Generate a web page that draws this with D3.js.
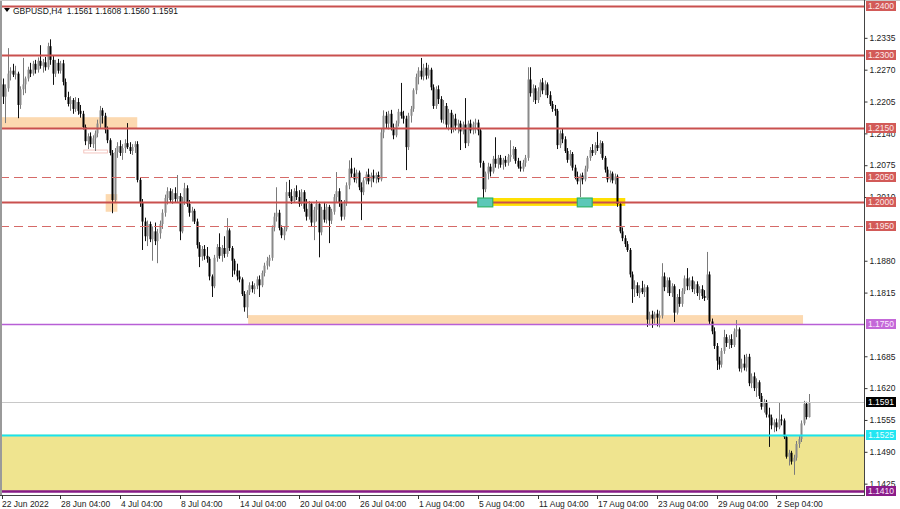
<!DOCTYPE html>
<html><head><meta charset="utf-8">
<script src="https://cdn.jsdelivr.net/npm/d3@7"></script>
<style>body{margin:0;background:#fff}svg{display:block}text{font-family:"Liberation Sans",Arial,sans-serif}</style>
</head><body><svg id="c" width="900" height="509"></svg>
<script>
// GBPUSD H4 candles [open, high, low, close], from 22 Jun 2022 08:00
const candles = [
[1.2240,1.2252,1.2200,1.2215],[1.2215,1.2240,1.2161,1.2232],[1.2232,1.2314,1.2225,1.2262],[1.2262,1.2275,1.2248,1.2268],
[1.2268,1.2282,1.2255,1.2260],[1.2260,1.2278,1.2250,1.2262],[1.2262,1.2266,1.2171,1.2198],[1.2198,1.2236,1.2190,1.2230],
[1.2230,1.2294,1.2218,1.2240],[1.2240,1.2256,1.2222,1.2252],[1.2252,1.2276,1.2246,1.2270],[1.2270,1.2284,1.2255,1.2262],
[1.2262,1.2288,1.2258,1.2282],[1.2282,1.2290,1.2262,1.2270],[1.2270,1.2295,1.2264,1.2288],[1.2288,1.2320,1.2272,1.2278],
[1.2278,1.2292,1.2264,1.2285],[1.2285,1.2296,1.2268,1.2275],[1.2275,1.2325,1.2270,1.2318],[1.2318,1.2332,1.2280,1.2290],
[1.2290,1.2300,1.2239,1.2262],[1.2262,1.2290,1.2255,1.2284],[1.2284,1.2292,1.2262,1.2268],[1.2268,1.2288,1.2262,1.2283],
[1.2283,1.2290,1.2238,1.2245],[1.2245,1.2252,1.2208,1.2214],[1.2214,1.2225,1.2195,1.2200],[1.2200,1.2216,1.2186,1.2208],
[1.2208,1.2212,1.2180,1.2190],[1.2190,1.2214,1.2184,1.2204],[1.2204,1.2212,1.2178,1.2186],[1.2186,1.2198,1.2172,1.2180],
[1.2180,1.2186,1.2148,1.2153],[1.2153,1.2158,1.2116,1.2124],[1.2124,1.2140,1.2108,1.2134],[1.2134,1.2142,1.2112,1.2118],
[1.2118,1.2136,1.2110,1.2130],[1.2130,1.2146,1.2104,1.2140],[1.2140,1.2168,1.2132,1.2160],[1.2160,1.2196,1.2150,1.2187],
[1.2187,1.2192,1.2160,1.2176],[1.2176,1.2182,1.2140,1.2148],[1.2148,1.2154,1.2120,1.2126],[1.2126,1.2130,1.2095,1.2100],
[1.2100,1.2106,1.1977,1.2004],[1.2004,1.2110,1.1998,1.2102],[1.2102,1.2122,1.2090,1.2114],[1.2114,1.2126,1.2094,1.2100],
[1.2100,1.2118,1.2086,1.2110],[1.2110,1.2128,1.2100,1.2120],[1.2120,1.2161,1.2108,1.2112],[1.2112,1.2122,1.2098,1.2104],
[1.2104,1.2118,1.2096,1.2112],[1.2112,1.2124,1.2100,1.2118],[1.2118,1.2124,1.2040,1.2045],[1.2045,1.2050,1.1990,1.1998],
[1.1998,1.2006,1.1902,1.1960],[1.1960,1.1968,1.1920,1.1930],[1.1930,1.1962,1.1910,1.1955],[1.1955,1.1960,1.1918,1.1924],
[1.1924,1.1950,1.1880,1.1940],[1.1940,1.1958,1.1912,1.1920],[1.1920,1.1945,1.1875,1.1936],[1.1936,1.1962,1.1925,1.1955],
[1.1955,1.1985,1.1945,1.1978],[1.1978,1.2015,1.1970,1.2008],[1.2008,1.2030,1.1995,1.2022],[1.2022,1.2028,1.1998,1.2004],
[1.2004,1.2026,1.1996,1.2018],[1.2018,1.2030,1.2000,1.2006],[1.2006,1.2055,1.2000,1.2012],[1.2012,1.2018,1.1922,1.1940],
[1.1940,1.2010,1.1936,1.2002],[1.2002,1.2039,1.1994,1.2028],[1.2028,1.2034,1.1990,1.1996],[1.1996,1.2004,1.1970,1.1978],
[1.1978,1.1990,1.1960,1.1982],[1.1982,1.1986,1.1955,1.1960],[1.1960,1.1966,1.1905,1.1912],[1.1912,1.1918,1.1867,1.1888],
[1.1888,1.1910,1.1880,1.1904],[1.1904,1.1912,1.1882,1.1890],[1.1890,1.1908,1.1876,1.1884],[1.1884,1.1888,1.1840,1.1848],
[1.1848,1.1852,1.1806,1.1828],[1.1828,1.1892,1.1824,1.1886],[1.1886,1.1914,1.1878,1.1908],[1.1908,1.1936,1.1884,1.1890],
[1.1890,1.1912,1.1878,1.1906],[1.1906,1.1930,1.1886,1.1894],[1.1894,1.1967,1.1888,1.1942],[1.1942,1.1946,1.1900,1.1906],
[1.1906,1.1910,1.1847,1.1880],[1.1880,1.1884,1.1852,1.1860],[1.1860,1.1874,1.1840,1.1848],[1.1848,1.1860,1.1836,1.1842],
[1.1842,1.1846,1.1808,1.1812],[1.1812,1.1818,1.1776,1.1785],[1.1785,1.1820,1.1763,1.1816],[1.1816,1.1836,1.1810,1.1830],
[1.1830,1.1838,1.1815,1.1822],[1.1822,1.1834,1.1812,1.1828],[1.1828,1.1848,1.1822,1.1842],[1.1842,1.1850,1.1806,1.1830],
[1.1830,1.1860,1.1826,1.1855],[1.1855,1.1876,1.1848,1.1870],[1.1870,1.1888,1.1862,1.1880],[1.1880,1.1892,1.1868,1.1886],
[1.1886,1.1952,1.1880,1.1948],[1.1948,1.1978,1.1940,1.1970],[1.1970,1.2030,1.1960,1.1978],[1.1978,1.1984,1.1942,1.1947],
[1.1947,1.1952,1.1926,1.1932],[1.1932,1.1950,1.1922,1.1944],[1.1944,1.2041,1.1940,1.2020],[1.2020,1.2045,1.2008,1.2012],
[1.2012,1.2026,1.1996,1.2002],[1.2002,1.2028,1.1998,1.2022],[1.2022,1.2034,1.2004,1.2010],[1.2010,1.2024,1.1990,1.1996],
[1.1996,1.2026,1.1992,1.2020],[1.2020,1.2024,1.1980,1.1986],[1.1986,1.2006,1.1962,1.1970],[1.1970,1.2002,1.1964,1.1996],
[1.1996,1.2000,1.1950,1.1958],[1.1958,1.1990,1.1922,1.1984],[1.1984,1.2004,1.1960,1.1996],[1.1996,1.2000,1.1887,1.1938],
[1.1938,1.1990,1.1932,1.1984],[1.1984,1.2000,1.1958,1.1964],[1.1964,1.1996,1.1956,1.1990],[1.1990,1.1994,1.1916,1.1962],
[1.1962,1.1986,1.1955,1.1980],[1.1980,1.2016,1.1974,1.2010],[1.2010,1.2061,1.2000,1.2022],[1.2022,1.2028,1.1990,1.1998],
[1.1998,1.2004,1.1962,1.1970],[1.1970,1.2004,1.1964,1.1998],[1.1998,1.2040,1.1992,1.2034],[1.2034,1.2085,1.2026,1.2068],
[1.2068,1.2090,1.2050,1.2058],[1.2058,1.2070,1.2040,1.2046],[1.2046,1.2066,1.2038,1.2060],[1.2060,1.2064,1.2024,1.2030],
[1.2030,1.2040,1.1963,1.2020],[1.2020,1.2050,1.2014,1.2044],[1.2044,1.2062,1.2036,1.2056],[1.2056,1.2068,1.2036,1.2042],
[1.2042,1.2060,1.2030,1.2054],[1.2054,1.2066,1.2040,1.2048],[1.2048,1.2060,1.2038,1.2055],[1.2055,1.2062,1.2040,1.2046],
[1.2046,1.2150,1.2042,1.2142],[1.2142,1.2187,1.2130,1.2176],[1.2176,1.2184,1.2150,1.2160],[1.2160,1.2186,1.2148,1.2180],
[1.2180,1.2188,1.2146,1.2152],[1.2152,1.2160,1.2128,1.2136],[1.2136,1.2166,1.2132,1.2160],[1.2160,1.2190,1.2154,1.2184],
[1.2184,1.2243,1.2170,1.2176],[1.2176,1.2186,1.2160,1.2170],[1.2170,1.2176,1.2065,1.2112],[1.2112,1.2182,1.2106,1.2176],
[1.2176,1.2196,1.2162,1.2190],[1.2190,1.2232,1.2184,1.2228],[1.2228,1.2262,1.2220,1.2255],[1.2255,1.2275,1.2240,1.2268],
[1.2268,1.2294,1.2250,1.2256],[1.2256,1.2282,1.2248,1.2274],[1.2274,1.2284,1.2250,1.2258],[1.2258,1.2280,1.2252,1.2270],
[1.2270,1.2274,1.2228,1.2234],[1.2234,1.2240,1.2190,1.2196],[1.2196,1.2236,1.2190,1.2230],[1.2230,1.2238,1.2200,1.2210],
[1.2210,1.2216,1.2162,1.2168],[1.2168,1.2208,1.2160,1.2196],[1.2196,1.2202,1.2150,1.2158],[1.2158,1.2190,1.2146,1.2182],
[1.2182,1.2188,1.2140,1.2148],[1.2148,1.2178,1.2142,1.2170],[1.2170,1.2180,1.2146,1.2156],[1.2156,1.2168,1.2140,1.2160],
[1.2160,1.2166,1.2106,1.2144],[1.2144,1.2164,1.2138,1.2158],[1.2158,1.2212,1.2110,1.2120],[1.2120,1.2166,1.2114,1.2160],
[1.2160,1.2168,1.2140,1.2146],[1.2146,1.2164,1.2138,1.2158],[1.2158,1.2170,1.2140,1.2162],[1.2162,1.2168,1.2136,1.2146],
[1.2146,1.2150,1.2070,1.2080],[1.2080,1.2084,1.2004,1.2026],[1.2026,1.2062,1.2020,1.2058],[1.2058,1.2080,1.2046,1.2072],
[1.2072,1.2078,1.2052,1.2062],[1.2062,1.2094,1.2058,1.2088],[1.2088,1.2132,1.2070,1.2078],[1.2078,1.2096,1.2068,1.2090],
[1.2090,1.2096,1.2070,1.2076],[1.2076,1.2090,1.2066,1.2086],[1.2086,1.2094,1.2072,1.2080],[1.2080,1.2098,1.2074,1.2092],
[1.2092,1.2126,1.2082,1.2096],[1.2096,1.2114,1.2088,1.2108],[1.2108,1.2112,1.2078,1.2084],[1.2084,1.2090,1.2068,1.2072],
[1.2072,1.2084,1.2062,1.2068],[1.2068,1.2086,1.2062,1.2080],[1.2080,1.2096,1.2072,1.2090],[1.2090,1.2275,1.2084,1.2250],
[1.2250,1.2275,1.2215,1.2222],[1.2222,1.2240,1.2204,1.2232],[1.2232,1.2238,1.2200,1.2208],[1.2208,1.2234,1.2202,1.2226],
[1.2226,1.2250,1.2214,1.2244],[1.2244,1.2253,1.2220,1.2228],[1.2228,1.2248,1.2218,1.2240],[1.2240,1.2244,1.2212,1.2218],
[1.2218,1.2226,1.2196,1.2200],[1.2200,1.2206,1.2184,1.2190],[1.2190,1.2198,1.2176,1.2186],[1.2186,1.2190,1.2108,1.2116],
[1.2116,1.2146,1.2110,1.2140],[1.2140,1.2150,1.2120,1.2128],[1.2128,1.2134,1.2100,1.2104],[1.2104,1.2110,1.2080,1.2086],
[1.2086,1.2106,1.2074,1.2098],[1.2098,1.2102,1.2064,1.2070],[1.2070,1.2076,1.2046,1.2052],[1.2052,1.2062,1.2036,1.2042],
[1.2042,1.2058,1.2010,1.2054],[1.2054,1.2060,1.2036,1.2046],[1.2046,1.2074,1.2042,1.2068],[1.2068,1.2094,1.2062,1.2090],
[1.2090,1.2112,1.2084,1.2106],[1.2106,1.2118,1.2094,1.2100],[1.2100,1.2122,1.2096,1.2116],[1.2116,1.2143,1.2104,1.2110],
[1.2110,1.2126,1.2098,1.2120],[1.2120,1.2124,1.2086,1.2090],[1.2090,1.2094,1.2060,1.2066],[1.2066,1.2072,1.2040,1.2046],
[1.2046,1.2064,1.2040,1.2058],[1.2058,1.2062,1.2038,1.2044],[1.2044,1.2058,1.2036,1.2052],[1.2052,1.2056,1.1990,1.1996],
[1.1996,1.2000,1.1936,1.1940],[1.1940,1.1948,1.1920,1.1926],[1.1926,1.1932,1.1908,1.1914],[1.1914,1.1920,1.1898,1.1902],
[1.1902,1.1906,1.1846,1.1852],[1.1852,1.1858,1.1794,1.1822],[1.1822,1.1840,1.1806,1.1830],[1.1830,1.1836,1.1808,1.1814],
[1.1814,1.1830,1.1804,1.1824],[1.1824,1.1839,1.1812,1.1816],[1.1816,1.1832,1.1806,1.1826],[1.1826,1.1830,1.1745,1.1760],
[1.1760,1.1776,1.1748,1.1770],[1.1770,1.1778,1.1743,1.1762],[1.1762,1.1776,1.1752,1.1772],[1.1772,1.1780,1.1746,1.1764],
[1.1764,1.1778,1.1744,1.1768],[1.1768,1.1875,1.1762,1.1848],[1.1848,1.1856,1.1818,1.1826],[1.1826,1.1846,1.1814,1.1840],
[1.1840,1.1846,1.1808,1.1814],[1.1814,1.1834,1.1806,1.1828],[1.1828,1.1832,1.1755,1.1774],[1.1774,1.1812,1.1770,1.1806],
[1.1806,1.1822,1.1786,1.1792],[1.1792,1.1824,1.1786,1.1818],[1.1818,1.1850,1.1812,1.1844],[1.1844,1.1865,1.1820,1.1828],
[1.1828,1.1846,1.1820,1.1840],[1.1840,1.1848,1.1816,1.1822],[1.1822,1.1838,1.1812,1.1832],[1.1832,1.1838,1.1808,1.1814],
[1.1814,1.1828,1.1800,1.1822],[1.1822,1.1830,1.1802,1.1808],[1.1808,1.1820,1.1798,1.1804],[1.1804,1.1898,1.1800,1.1852],
[1.1852,1.1858,1.1750,1.1756],[1.1756,1.1762,1.1730,1.1736],[1.1736,1.1744,1.1700,1.1706],[1.1706,1.1712,1.1657,1.1676],
[1.1676,1.1684,1.1658,1.1668],[1.1668,1.1702,1.1662,1.1696],[1.1696,1.1739,1.1690,1.1724],[1.1724,1.1730,1.1704,1.1712],
[1.1712,1.1728,1.1700,1.1720],[1.1720,1.1730,1.1702,1.1708],[1.1708,1.1742,1.1704,1.1736],[1.1736,1.1759,1.1724,1.1740],
[1.1740,1.1744,1.1654,1.1660],[1.1660,1.1680,1.1652,1.1670],[1.1670,1.1688,1.1656,1.1662],[1.1662,1.1690,1.1654,1.1684],
[1.1684,1.1690,1.1624,1.1630],[1.1630,1.1650,1.1620,1.1644],[1.1644,1.1652,1.1614,1.1620],[1.1620,1.1640,1.1602,1.1632],
[1.1632,1.1636,1.1598,1.1604],[1.1604,1.1610,1.1576,1.1582],[1.1582,1.1598,1.1570,1.1592],[1.1592,1.1596,1.1560,1.1566],
[1.1566,1.1580,1.1500,1.1560],[1.1560,1.1566,1.1536,1.1544],[1.1544,1.1556,1.1530,1.1550],[1.1550,1.1558,1.1532,1.1540],
[1.1540,1.1590,1.1536,1.1556],[1.1556,1.1566,1.1544,1.1554],[1.1554,1.1558,1.1516,1.1520],[1.1520,1.1524,1.1476,1.1480],
[1.1480,1.1494,1.1462,1.1488],[1.1488,1.1492,1.1464,1.1470],[1.1470,1.1484,1.1443,1.1478],[1.1478,1.1512,1.1472,1.1506],
[1.1506,1.1522,1.1498,1.1516],[1.1516,1.1554,1.1510,1.1548],[1.1548,1.1594,1.1544,1.1588],[1.1588,1.1592,1.1556,1.1561],
[1.1561,1.1608,1.1560,1.1591]
];
// axis tick values visible in the reference (those hidden under level tags are omitted)
const priceTicks = [1.2335,1.2270,1.2205,1.2140,1.2075,1.2010,1.1880,1.1815,1.1685,1.1620,1.1555,1.1490,1.1425];
const dateLabels = ["22 Jun 2022","28 Jun 04:00","4 Jul 04:00","8 Jul 04:00","14 Jul 04:00","20 Jul 04:00","26 Jul 04:00","1 Aug 04:00","5 Aug 04:00","11 Aug 04:00","17 Aug 04:00","23 Aug 04:00","29 Aug 04:00","2 Sep 04:00"];
const dateBars = [0,23,47,71,95,119,143,167,191,215,239,263,287,311];
const levelPrices = [1.2400,1.2300,1.2150,1.2050,1.2000,1.1950,1.1750,1.1591,1.1525,1.1410];
const levelKinds = ["res","res","res","dash","res","dash","violet","price","cyan","purple"];
// zones: [fromBar, toBar, topPrice, bottomPrice]
const peachZones = [[-1.2,54,1.2173,1.2150],[41.3,46,1.2016,1.1980],[98.6,321.8,1.1769,1.1750]];
const supportZone = [1.1525,1.1410];
const goldBand = [191,250.3,1.2006,1.1994];
const touchBoxes = [[191,197],[231,237]];
const header = "GBPUSD,H4  1.1561 1.1608 1.1560 1.1591";

const svg = d3.select("#c");
const W = 900, H = 509, plotR = 864, plotB = 495;
const x = d3.scaleLinear().domain([0, 324]).range([3, 808.5]);
const y = d3.scaleLinear().domain([1.141, 1.24]).range([491, 6]);

svg.append("rect").attr("width",W).attr("height",H).attr("fill","#fff");
const plot = svg.append("g");
plot.append("clipPath").attr("id","clip").append("rect").attr("x",0).attr("y",0).attr("width",plotR).attr("height",plotB);
const pg = plot.append("g").attr("clip-path","url(#clip)");

// support zone
pg.append("rect").attr("x",0).attr("width",plotR)
  .attr("y",y(supportZone[0])).attr("height",y(supportZone[1])-y(supportZone[0])).attr("fill","#efe48f");
// peach zones
pg.selectAll(".pz").data(peachZones).join("rect")
  .attr("x",d=>x(d[0])).attr("width",d=>x(d[1])-x(d[0]))
  .attr("y",d=>y(d[2])).attr("height",d=>y(d[3])-y(d[2])).attr("fill","#fcd9b0");
// small outline rectangle near early July
pg.append("rect").attr("x",x(32.5)).attr("width",x(42)-x(32.5)).attr("y",y(1.2106)).attr("height",y(1.2100)-y(1.2106))
  .attr("fill","none").attr("stroke","#f2b8b0").attr("stroke-width",0.8);
// gold band
pg.append("rect").attr("x",x(goldBand[0])).attr("width",x(goldBand[1])-x(goldBand[0]))
  .attr("y",y(goldBand[2])-1).attr("height",y(goldBand[3])-y(goldBand[2])+2).attr("fill","#ffe000");

// candles
const cg = pg.append("g");
candles.forEach((c,i)=>{
  const [o,h,l,cl] = c;
  const cx = Math.round(x(i)) + 0.5;
  const bull = cl >= o;
  const col = bull ? "#8a8a8a" : "#000";
  cg.append("line").attr("x1",cx).attr("x2",cx).attr("y1",y(h)).attr("y2",y(l))
    .attr("stroke", bull ? "#7a7a7a" : "#111").attr("stroke-width",1);
  const top = y(Math.max(o,cl)), bot = y(Math.min(o,cl));
  cg.append("rect").attr("x",cx-1).attr("width",2).attr("y",top).attr("height",Math.max(1,bot-top)).attr("fill",col);
});

// level lines
const styleOf = {
  res:{c:"#c9504e",w:2,d:null}, dash:{c:"#d56a68",w:1,d:"9,5"}, violet:{c:"#b85fd6",w:1.3,d:null},
  price:{c:"#c8c8c8",w:1,d:null}, cyan:{c:"#19e3ee",w:2,d:null}, purple:{c:"#861a86",w:2.5,d:null}
};
levelPrices.forEach((p,k)=>{
  const s = styleOf[levelKinds[k]];
  pg.append("line").attr("x1",0).attr("x2",plotR).attr("y1",Math.round(y(p))+0.5).attr("y2",Math.round(y(p))+0.5)
    .attr("stroke",s.c).attr("stroke-width",s.w).attr("stroke-dasharray",s.d);
});
// touch markers on the 1.2000 band
pg.selectAll(".tb").data(touchBoxes).join("rect")
  .attr("x",d=>x(d[0])).attr("width",d=>x(d[1])-x(d[0]))
  .attr("y",y(1.2008)).attr("height",y(1.1990)-y(1.2008))
  .attr("fill","#5cc8b8").attr("stroke","#2fb36a").attr("stroke-width",1.2);

// frame
svg.append("rect").attr("x",0).attr("y",0).attr("width",2).attr("height",plotB).attr("fill","#9a9a9a");
svg.append("line").attr("x1",0).attr("x2",W).attr("y1",0.5).attr("y2",0.5).attr("stroke","#c8c8c8");
svg.append("line").attr("x1",plotR+0.5).attr("x2",plotR+0.5).attr("y1",0).attr("y2",plotB).attr("stroke","#444");
svg.append("line").attr("x1",0).attr("x2",plotR+1).attr("y1",plotB+0.5).attr("y2",plotB+0.5).attr("stroke","#444");

// price axis
const yAxis = d3.axisRight(y).tickValues(priceTicks).tickFormat(d3.format(".4f")).tickSize(3).tickPadding(2);
const ya = svg.append("g").attr("transform",`translate(${plotR+0.5},0)`).call(yAxis);
ya.select(".domain").remove();
ya.selectAll("line").attr("stroke","#333");
ya.selectAll("text").attr("font-size",8.5).attr("fill","#222").attr("font-family","Liberation Sans, Arial, sans-serif");

// level tags
const tagFill = {res:"#d25a58",dash:"#d25a58",violet:"#c468d8",price:"#000",cyan:"#22e6f2",purple:"#8a1c8a"};
const tagText = {res:"#fde8e8",dash:"#fde8e8",violet:"#fbeafe",price:"#fff",cyan:"#e8feff",purple:"#fbe9fb"};
levelPrices.forEach((p,k)=>{
  const kind = levelKinds[k];
  const yy = Math.round(y(p));
  svg.append("rect").attr("x",plotR+2).attr("y",Math.max(1,yy-5)).attr("width",30).attr("height",10).attr("fill",tagFill[kind]);
  svg.append("text").attr("x",plotR+4).attr("y",Math.max(1,yy-5)+8.2).attr("font-size",8.5)
    .attr("fill",tagText[kind]).text(d3.format(".4f")(p));
});

// time axis
const tg = svg.append("g");
dateBars.forEach((b,k)=>{
  const tx = k===0 ? 2 : Math.round(x(b));
  tg.append("line").attr("x1",tx+0.5).attr("x2",tx+0.5).attr("y1",plotB).attr("y2",plotB+4).attr("stroke","#333");
  tg.append("text").attr("x",tx+ (k===0?0:1)).attr("y",507).attr("font-size",8.5).attr("fill","#222").text(dateLabels[k]);
});

// header
svg.append("path").attr("d","M4,8 L10,8 L7,12 Z").attr("fill","#000");
svg.append("text").attr("x",13).attr("y",13.5).attr("font-size",8.5).attr("fill","#111").attr("xml:space","preserve").text(header);
</script></body></html>
